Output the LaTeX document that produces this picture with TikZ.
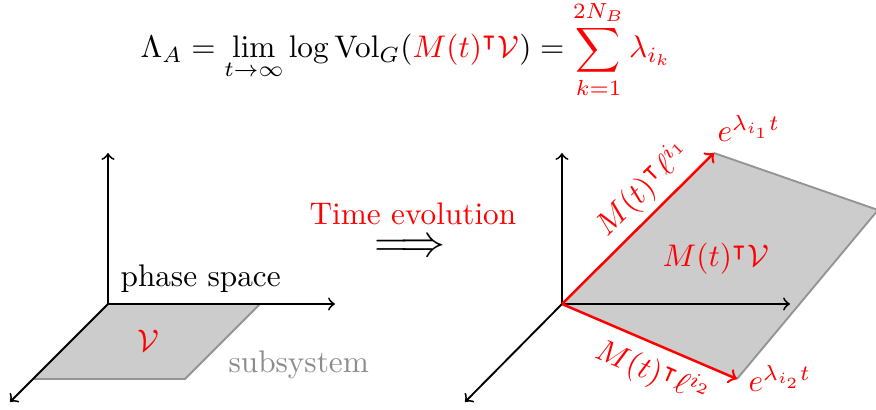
\documentclass[tikz,border=0pt]{standalone}
\usepackage{amsmath,amssymb}
\begin{document}
\begin{tikzpicture}[x=0.32pt,y=-0.32pt,
  axis/.style={semithick,->,black},
  redarrow/.style={thick,->,red},
  patch/.style={fill=black!20,draw=none},
  patchedge/.style={semithick,draw=black!42},
  lbl/.style={inner sep=0pt}]
\useasboundingbox (0,0) rectangle (876,410);
\clip (0,0) rectangle (876,410);
% formula
\node[lbl,anchor=base] (formula) at (406,58) {$\displaystyle \Lambda_A=\lim_{t\to\infty}\log\mathrm{Vol}_G(\textcolor{red}{M(t)^{\intercal}\mathcal{V}})=\textcolor{red}{\sum_{k=1}^{2N_B}\lambda_{i_k}}$};
% left diagram
\coordinate (O1) at (108,304);
\coordinate (U1) at (108,153);
\coordinate (R1) at (335,304);
\coordinate (D1) at (10,402);
\coordinate (P1) at (260,304);
\coordinate (P2) at (185,379);
\coordinate (P3) at (33,379);
\fill[patch] (O1) -- (P1) -- (P2) -- (P3) -- cycle;
\draw[patchedge] (P1) -- (P2) -- (P3);
\draw[axis] (O1) -- (U1);
\draw[axis] (O1) -- (R1);
\draw[axis] (O1) -- (D1);
\node[lbl,anchor=base west] (phase) at (120,287) {phase space};
\node[lbl,red] (V1) at (148,341) {$\mathcal{V}$};
\node[lbl,anchor=base west,text=black!45] (subsys) at (228,373) {subsystem};
% middle
\node[lbl,anchor=base west,red] (time) at (309,225) {Time evolution};
\node[lbl] (implies) at (410,248) {\Large$\Longrightarrow$};
% right diagram
\coordinate (O2) at (562,304);
\coordinate (U2) at (562,153);
\coordinate (R2) at (790,304);
\coordinate (D2) at (465,402);
\coordinate (A) at (714,153);
\coordinate (B) at (737,379);
\coordinate (C) at (878,210);
\fill[patch] (O2) -- (A) -- (C) -- (B) -- cycle;
\draw[patchedge] (A) -- (C) -- (B);
\draw[axis] (O2) -- (U2);
\draw[axis] (O2) -- (R2);
\draw[axis] (O2) -- (D2);
\draw[redarrow] (O2) -- node[pos=0.65,above,sloped,inner sep=2pt] (l1) {$M(t)^{\intercal}\ell^{i_1}$} (A);
\draw[redarrow] (O2) -- node[pos=0.58,below,sloped,inner sep=3pt] (l2) {$M(t)^{\intercal}\ell^{i_2}$} (B);
\node[lbl,anchor=base west,red] (e1) at (717,142) {$e^{\lambda_{i_1}t}$};
\node[lbl,anchor=base west,red] (e2) at (748,392) {$e^{\lambda_{i_2}t}$};
\node[lbl,anchor=base west,red] (MV) at (662,267) {$M(t)^{\intercal}\mathcal{V}$};
\end{tikzpicture}
\end{document}
